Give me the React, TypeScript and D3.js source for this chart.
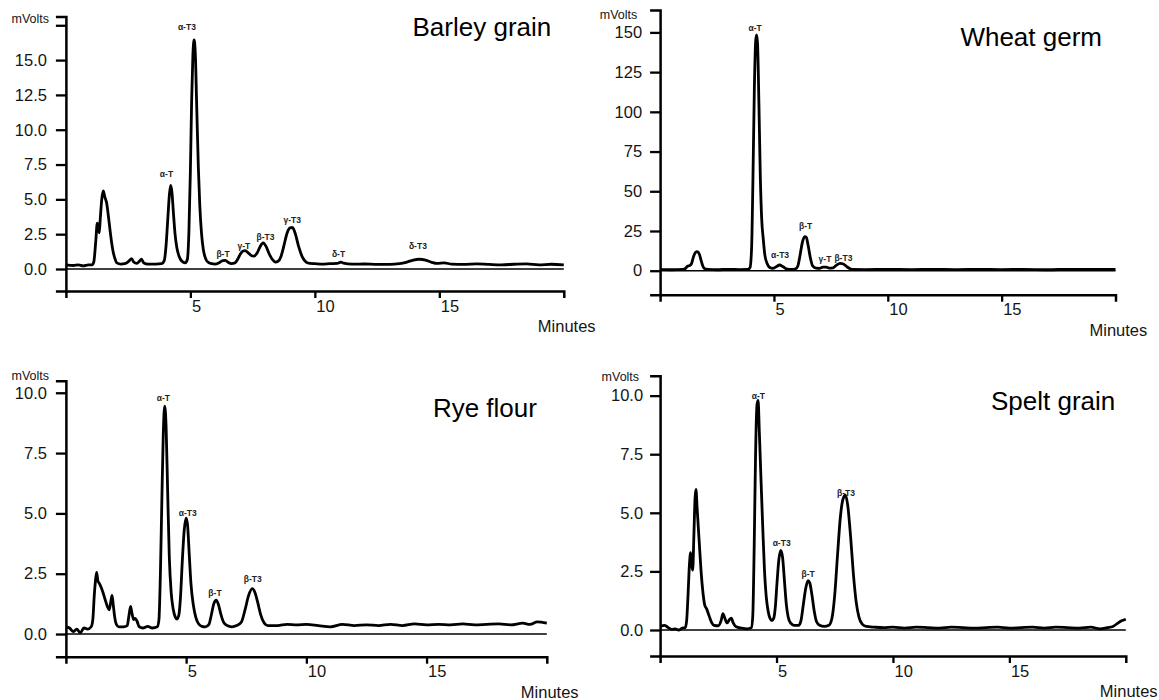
import { useEffect, useRef } from "react";
import * as d3 from "d3";

type Pt = [number, number];
type Peak = { name: string; t: number; v: number };

// retention time (min) / signal (mVolts)
const xTicks = [5, 10, 15];
const barleyTicks = [0, 2.5, 5, 7.5, 10, 12.5, 15, 17.5];
const barleyLabelMax = 15; // 17.5 has a tick but no label
const wheatTicks = [0, 25, 50, 75, 100, 125, 150];
const ryeTicks = [0, 2.5, 5, 7.5, 10];
const speltTicks = [0, 2.5, 5, 7.5, 10];

const barleyTrace: Pt[] = [
  [0, 0.3], [0.3, 0.25], [0.5, 0.3], [0.7, 0.22], [0.9, 0.3], [1.05, 0.3], [1.12, 0.5],
  [1.2, 2.0], [1.26, 3.3], [1.3, 3.0], [1.34, 2.6], [1.38, 3.6], [1.44, 5.0], [1.5, 5.6],
  [1.56, 5.2], [1.64, 4.7], [1.72, 3.6], [1.8, 2.4], [1.88, 1.4], [1.96, 0.8], [2.06, 0.42],
  [2.2, 0.35], [2.4, 0.4], [2.55, 0.6], [2.64, 0.75], [2.72, 0.5], [2.85, 0.4], [2.95, 0.55],
  [3.04, 0.7], [3.12, 0.45], [3.3, 0.35], [3.6, 0.35], [3.85, 0.38], [3.95, 0.6], [4.02, 1.6],
  [4.1, 3.8], [4.16, 5.4], [4.21, 6.0], [4.26, 5.5], [4.32, 4.0], [4.38, 2.6], [4.45, 1.6],
  [4.52, 1.05], [4.6, 0.7], [4.7, 0.5], [4.8, 0.45], [4.88, 0.7], [4.94, 2.6], [5.0, 7.0],
  [5.05, 12.0], [5.1, 15.3], [5.15, 16.45], [5.2, 15.4], [5.25, 12.0], [5.32, 7.3], [5.38, 4.5],
  [5.45, 2.5], [5.52, 1.4], [5.6, 0.8], [5.7, 0.5], [5.85, 0.38], [6.0, 0.35], [6.15, 0.45],
  [6.3, 0.6], [6.4, 0.62], [6.5, 0.5], [6.65, 0.38], [6.8, 0.45], [6.9, 0.7], [7.0, 1.05],
  [7.1, 1.28], [7.2, 1.32], [7.3, 1.2], [7.42, 1.0], [7.55, 0.92], [7.68, 1.15], [7.8, 1.6],
  [7.92, 1.88], [8.04, 1.62], [8.15, 1.15], [8.28, 0.72], [8.42, 0.5], [8.52, 0.55],
  [8.64, 0.9], [8.76, 1.7], [8.88, 2.55], [9.0, 2.95], [9.1, 2.98], [9.22, 2.5], [9.35, 1.6],
  [9.5, 0.85], [9.65, 0.5], [9.8, 0.4], [10.0, 0.38], [10.3, 0.35], [10.6, 0.38], [10.9, 0.4],
  [11.05, 0.5], [11.15, 0.42], [11.5, 0.35], [12.0, 0.36], [12.5, 0.33], [13.0, 0.33],
  [13.4, 0.38], [13.7, 0.5], [13.95, 0.64], [14.2, 0.7], [14.45, 0.64], [14.7, 0.48],
  [14.9, 0.4], [15.2, 0.44], [15.5, 0.35], [16, 0.33], [16.5, 0.37], [17, 0.33], [17.5, 0.3],
  [18, 0.34], [18.5, 0.37], [19, 0.3], [19.5, 0.34], [20, 0.3],
];

const wheatTrace: Pt[] = [
  [0, 0.8], [0.5, 0.6], [1.0, 0.8], [1.12, 1.5], [1.2, 2.8], [1.3, 3.2], [1.38, 4.5],
  [1.46, 8.5], [1.55, 11.5], [1.63, 12.0], [1.72, 10.5], [1.8, 6.5], [1.88, 2.8], [1.96, 1.2],
  [2.1, 0.8], [2.5, 0.6], [3.0, 0.9], [3.5, 0.7], [3.85, 0.8], [3.95, 2], [4.02, 15],
  [4.08, 60], [4.14, 115], [4.2, 145], [4.24, 148.5], [4.28, 143], [4.34, 105], [4.4, 60],
  [4.46, 33], [4.53, 20], [4.6, 10], [4.7, 4.5], [4.8, 2.2], [4.95, 1.5], [5.1, 2.5],
  [5.25, 3.6], [5.4, 2.5], [5.55, 1.2], [5.75, 0.8], [5.95, 1.2], [6.05, 3], [6.15, 10],
  [6.25, 18], [6.35, 21.5], [6.42, 21], [6.5, 16], [6.6, 8], [6.7, 3], [6.85, 1.6], [7.0, 1.5],
  [7.15, 2.2], [7.3, 2.2], [7.45, 1.6], [7.6, 1.8], [7.75, 3.5], [7.9, 4.6], [8.05, 4.2],
  [8.2, 2.5], [8.35, 1.2], [8.5, 0.8], [9, 0.7], [10, 0.8], [11, 0.7], [12, 0.9], [13, 0.7],
  [14, 0.9], [15, 0.7], [16, 0.8], [17, 0.6], [18, 0.9], [19, 0.8], [20, 0.8],
];

const ryeTrace: Pt[] = [
  [0, 0.3], [0.15, 0.25], [0.3, 0.1], [0.45, 0.2], [0.6, 0.05], [0.75, 0.25], [0.9, 0.2],
  [1.05, 0.3], [1.12, 0.6], [1.18, 1.6], [1.24, 2.3], [1.28, 2.55], [1.33, 2.2], [1.39, 2.1],
  [1.46, 1.95], [1.55, 1.7], [1.64, 1.4], [1.72, 1.15], [1.8, 1.0], [1.86, 1.3], [1.92, 1.6],
  [1.97, 1.2], [2.03, 0.7], [2.1, 0.4], [2.2, 0.3], [2.4, 0.3], [2.55, 0.35], [2.62, 0.75],
  [2.69, 1.15], [2.75, 0.85], [2.82, 0.6], [2.88, 0.65], [2.95, 0.55], [3.05, 0.3], [3.2, 0.25],
  [3.4, 0.32], [3.6, 0.25], [3.8, 0.3], [3.87, 0.6], [3.93, 2.5], [3.99, 5.5], [4.05, 8.3],
  [4.11, 9.45], [4.17, 8.5], [4.23, 6.0], [4.3, 3.2], [4.38, 1.7], [4.46, 1.05], [4.55, 0.7],
  [4.62, 0.62], [4.7, 0.8], [4.77, 1.6], [4.84, 3.0], [4.92, 4.3], [5.0, 4.8], [5.06, 4.5],
  [5.13, 3.3], [5.2, 2.1], [5.3, 1.2], [5.4, 0.7], [5.5, 0.45], [5.65, 0.32], [5.8, 0.3],
  [5.95, 0.4], [6.05, 0.8], [6.15, 1.25], [6.25, 1.4], [6.35, 1.2], [6.45, 0.8], [6.55, 0.5],
  [6.7, 0.35], [6.9, 0.3], [7.1, 0.35], [7.3, 0.5], [7.45, 1.0], [7.6, 1.6], [7.75, 1.88],
  [7.85, 1.75], [7.98, 1.3], [8.1, 0.8], [8.25, 0.45], [8.4, 0.35], [8.8, 0.35], [9.2, 0.4],
  [9.6, 0.38], [10, 0.4], [10.5, 0.35], [11, 0.3], [11.5, 0.4], [12, 0.35], [12.5, 0.38],
  [13, 0.35], [13.5, 0.4], [14, 0.35], [14.5, 0.42], [15, 0.38], [15.5, 0.4], [16, 0.38],
  [16.5, 0.42], [17, 0.38], [17.5, 0.4], [18, 0.42], [18.5, 0.38], [19, 0.45], [19.3, 0.4],
  [19.6, 0.5], [20, 0.45],
];

const speltTrace: Pt[] = [
  [0, 0.15], [0.2, 0.2], [0.35, 0.1], [0.5, 0.03], [0.65, 0.05], [0.8, 0.0], [0.95, 0.08],
  [1.08, 0.1], [1.14, 0.4], [1.2, 1.5], [1.26, 2.8], [1.31, 3.3], [1.36, 2.8], [1.4, 2.55],
  [1.45, 4.0], [1.5, 5.6], [1.54, 6.0], [1.59, 5.2], [1.64, 4.4], [1.69, 3.6], [1.76, 2.5],
  [1.84, 1.6], [1.92, 1.05], [2.0, 0.9], [2.07, 0.7], [2.14, 0.5], [2.22, 0.3], [2.32, 0.2],
  [2.5, 0.18], [2.62, 0.4], [2.7, 0.7], [2.78, 0.5], [2.88, 0.3], [2.98, 0.45], [3.06, 0.5],
  [3.14, 0.3], [3.25, 0.15], [3.5, 0.08], [3.75, 0.05], [3.92, 0.1], [3.98, 0.6], [4.04, 3.5],
  [4.1, 7.5], [4.16, 9.6], [4.21, 9.8], [4.26, 8.5], [4.33, 6.5], [4.4, 4.6], [4.48, 2.6],
  [4.56, 1.4], [4.64, 0.8], [4.72, 0.5], [4.8, 0.4], [4.88, 0.5], [4.95, 1.0], [5.02, 2.0],
  [5.1, 3.0], [5.18, 3.4], [5.26, 3.1], [5.34, 2.1], [5.42, 1.1], [5.5, 0.55], [5.6, 0.3],
  [5.75, 0.2], [5.95, 0.2], [6.05, 0.4], [6.14, 1.0], [6.24, 1.7], [6.35, 2.1], [6.43, 2.0],
  [6.52, 1.5], [6.62, 0.8], [6.72, 0.35], [6.85, 0.2], [7.05, 0.15], [7.25, 0.2], [7.38, 0.5],
  [7.5, 1.5], [7.62, 3.2], [7.74, 4.8], [7.86, 5.6], [7.96, 5.75], [8.06, 5.3], [8.18, 4.0],
  [8.3, 2.4], [8.42, 1.2], [8.54, 0.55], [8.68, 0.25], [8.85, 0.15], [9.2, 0.12], [9.6, 0.1],
  [10, 0.12], [10.5, 0.08], [11, 0.12], [11.5, 0.1], [12, 0.08], [12.5, 0.12], [13, 0.1],
  [13.5, 0.08], [14, 0.1], [14.5, 0.12], [15, 0.08], [15.5, 0.1], [16, 0.12], [16.5, 0.08],
  [17, 0.12], [17.5, 0.1], [18, 0.08], [18.5, 0.12], [18.9, 0.05], [19.2, 0.1], [19.45, 0.15],
  [19.6, 0.25], [19.8, 0.38], [20, 0.46],
];

// peak labels: label centre in data units
const barleyPeaks: Peak[] = [
  { name: "α-T", t: 4.04, v: 6.82 },
  { name: "α-T3", t: 4.86, v: 17.4 },
  { name: "β-T", t: 6.31, v: 1.08 },
  { name: "γ-T", t: 7.15, v: 1.67 },
  { name: "β-T3", t: 8.02, v: 2.32 },
  { name: "γ-T3", t: 9.09, v: 3.52 },
  { name: "δ-T", t: 10.95, v: 1.08 },
  { name: "δ-T3", t: 14.14, v: 1.67 },
];
const wheatPeaks: Peak[] = [
  { name: "α-T", t: 4.17, v: 153 },
  { name: "α-T3", t: 5.27, v: 9.9 },
  { name: "β-T", t: 6.39, v: 28.1 },
  { name: "γ-T", t: 7.24, v: 7.2 },
  { name: "β-T3", t: 8.05, v: 7.8 },
];
const ryePeaks: Peak[] = [
  { name: "α-T", t: 4.05, v: 9.77 },
  { name: "α-T3", t: 5.07, v: 5.03 },
  { name: "β-T", t: 6.2, v: 1.69 },
  { name: "β-T3", t: 7.77, v: 2.27 },
];
const speltPeaks: Peak[] = [
  { name: "α-T", t: 4.22, v: 10.0 },
  { name: "α-T3", t: 5.22, v: 3.73 },
  { name: "β-T", t: 6.36, v: 2.39 },
  { name: "β-T3", t: 7.98, v: 5.86 },
];

// layout of the four panels (pixel boxes)
const panels = [
  {
    title: "Barley grain", trace: barleyTrace, peaks: barleyPeaks, yTicks: barleyTicks,
    fmt: ".1f", labelMax: barleyLabelMax, yDomain: [-1.58, 18.13], left: 65.9, right: 563.8,
    top: 16.5, bottom: 291, titleX: 412.5, titleY: 36, unitX: 49, unitY: 22.5, pad: 9,
  },
  {
    title: "Wheat germ", trace: wheatTrace, peaks: wheatPeaks, yTicks: wheatTicks,
    fmt: "d", labelMax: Infinity, yDomain: [-15.1, 164.1], left: 660.1, right: 1115.5,
    top: 10, bottom: 294.7, titleX: 960.4, titleY: 45.7, unitX: 637.3, unitY: 19, pad: 8,
  },
  {
    title: "Rye flour", trace: ryeTrace, peaks: ryePeaks, yTicks: ryeTicks,
    fmt: ".1f", labelMax: Infinity, yDomain: [-0.94, 10.5], left: 65.9, right: 546.8,
    top: 380.7, bottom: 656.7, titleX: 432.9, titleY: 417.3, unitX: 49, unitY: 380, pad: 9,
  },
  {
    title: "Spelt grain", trace: speltTrace, peaks: speltPeaks, yTicks: speltTicks,
    fmt: ".1f", labelMax: Infinity, yDomain: [-1.11, 10.85], left: 660.1, right: 1125.8,
    top: 375.7, bottom: 656, titleX: 991, titleY: 410, unitX: 639.1, unitY: 380.7, pad: 7,
  },
];

const FONT = "'Liberation Sans', Arial, Helvetica, sans-serif";

const App = () => {
  const svgRef = useRef<SVGSVGElement>(null);

  useEffect(() => {
    const svg = d3.select(svgRef.current);
    svg.selectAll("*").remove();

    panels.forEach((p) => {
      const x = d3.scaleLinear().domain([0, 20]).range([p.left, p.right]);
      const y = d3.scaleLinear().domain(p.yDomain).range([p.bottom, p.top]);
      const g = svg.append("g");
      const fmt = d3.format(p.fmt);

      // y axis (outer ticks make the top/bottom marks)
      const ya = g
        .append("g")
        .attr("transform", `translate(${p.left},0)`)
        .call(
          d3
            .axisLeft(y)
            .tickValues(p.yTicks)
            .tickSize(10)
            .tickSizeOuter(10)
            .tickPadding(p.pad)
            .tickFormat((d: any) => (d > p.labelMax ? "" : fmt(d)))
        );
      ya.select(".domain").attr("stroke", "#000").attr("stroke-width", 2.5);
      ya.selectAll(".tick line").attr("stroke", "#000").attr("stroke-width", 2.3);
      ya.selectAll(".tick text")
        .attr("fill", "#151515")
        .style("font-family", FONT)
        .style("font-size", "16.5px");

      // x axis
      const xa = g
        .append("g")
        .attr("transform", `translate(0,${p.bottom})`)
        .call(d3.axisBottom(x).tickValues(xTicks).tickSize(7).tickSizeOuter(7).tickPadding(2));
      xa.select(".domain").attr("stroke", "#000").attr("stroke-width", 2.5);
      xa.selectAll(".tick line").attr("stroke", "#000").attr("stroke-width", 2.3);
      xa.selectAll(".tick text")
        .attr("fill", "#151515")
        .attr("text-anchor", "start")
        .attr("dx", 1)
        .style("font-family", FONT)
        .style("font-size", "16.5px");

      // zero baseline
      g.append("line")
        .attr("x1", x(0))
        .attr("x2", x(20))
        .attr("y1", y(0))
        .attr("y2", y(0))
        .attr("stroke", "#000")
        .attr("stroke-width", 1.4);

      // chromatogram trace
      const line = d3
        .line<Pt>()
        .x((d) => x(d[0]))
        .y((d) => y(d[1]))
        .curve(d3.curveMonotoneX);

      g.append("path")
        .datum(p.trace)
        .attr("fill", "none")
        .attr("stroke", "#000")
        .attr("stroke-width", 2.8)
        .attr("stroke-linejoin", "round")
        .attr("d", line);

      // peak labels
      g.selectAll(".peak")
        .data(p.peaks)
        .enter()
        .append("text")
        .attr("class", "peak")
        .attr("x", (d) => x(d.t))
        .attr("y", (d) => y(d.v))
        .attr("dy", "0.35em")
        .attr("text-anchor", "middle")
        .attr("fill", "#222")
        .style("font-family", FONT)
        .style("font-size", "8.5px")
        .style("font-weight", "bold")
        .text((d) => d.name);

      // title, units
      g.append("text")
        .attr("x", p.titleX)
        .attr("y", p.titleY)
        .attr("fill", "#000")
        .style("font-family", FONT)
        .style("font-size", "26px")
        .text(p.title);

      g.append("text")
        .attr("x", p.unitX)
        .attr("y", p.unitY)
        .attr("text-anchor", "end")
        .attr("fill", "#151515")
        .style("font-family", FONT)
        .style("font-size", "12.5px")
        .text("mVolts");

      g.append("text")
        .attr("x", p.right - 26)
        .attr("y", p.bottom + 41)
        .attr("fill", "#151515")
        .style("font-family", FONT)
        .style("font-size", "16.5px")
        .text("Minutes");
    });
  }, []);

  return (
    <svg
      ref={svgRef}
      width={1159}
      height={700}
      style={{ position: "absolute", left: 0, top: 0, background: "#fff" }}
    />
  );
};

export default App;
